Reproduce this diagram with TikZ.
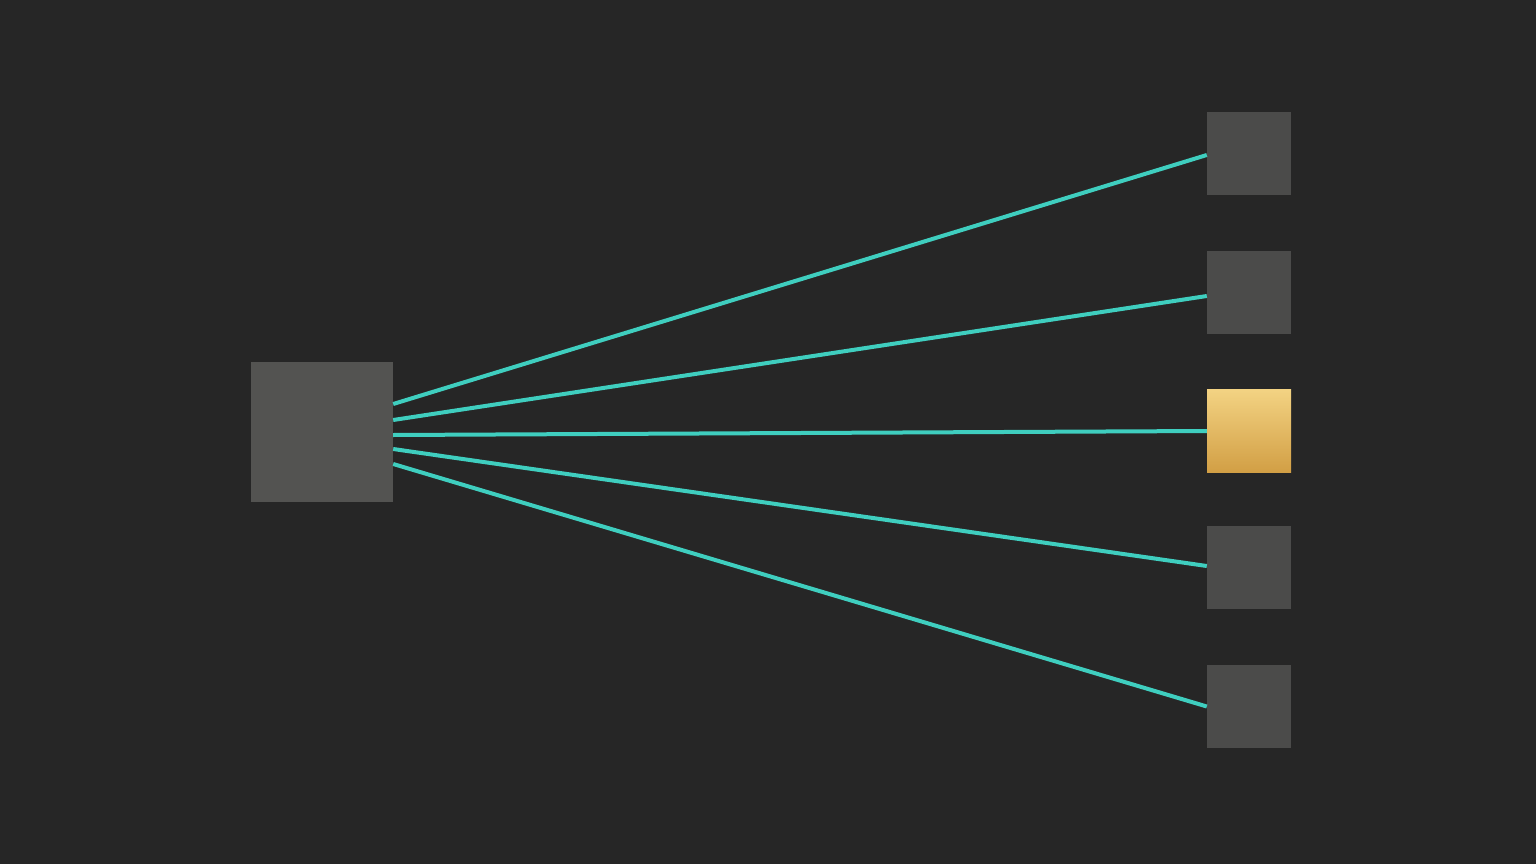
\documentclass[tikz,border=0pt]{standalone}
\usepackage{tikz}

\definecolor{bgdark}{HTML}{262626}
\definecolor{boxgrey}{HTML}{535351}
\definecolor{boxgreyR}{HTML}{4B4B4A}
\definecolor{wire}{HTML}{3FCEBF}
\definecolor{goldtop}{HTML}{F3D383}
\definecolor{goldbot}{HTML}{D29F45}

\tikzset{
    hub/.style={rectangle, fill=boxgrey, minimum width=142pt, minimum height=140pt, inner sep=0pt},
    leaf/.style={rectangle, fill=boxgreyR, minimum width=84pt, minimum height=83pt, inner sep=0pt},
    pick/.style={leaf, top color=goldtop, bottom color=goldbot},
    wirelink/.style={draw=wire, line width=4pt}
}

\begin{document}
\begin{tikzpicture}[x=1pt, y=-1pt]
    \def\W{1536}
    \def\H{864}
    \fill[bgdark] (0,0) rectangle (\W,\H);
    \useasboundingbox (0,0) rectangle (\W,\H);

    % Source
    \node[hub] (src) at (322,432) {};

    % Targets
    \node[leaf] (t1) at (1249,153.5) {};
    \node[leaf] (t2) at (1249,292.5) {};
    \node[pick] (t3) at (1249,430.5) {};
    \node[leaf] (t4) at (1249,567.5) {};
    \node[leaf] (t5) at (1249,706.5) {};

    % Links
    \foreach \t/\a/\b in {t1/28/-1.5, t2/12/-3.5, t3/-3/-0.5, t4/-17/1.5, t5/-32/0} {
        \draw[wirelink] ([yshift=\a pt]src.east) -- ([yshift=\b pt]\t.west);
    }
\end{tikzpicture}
\end{document}
